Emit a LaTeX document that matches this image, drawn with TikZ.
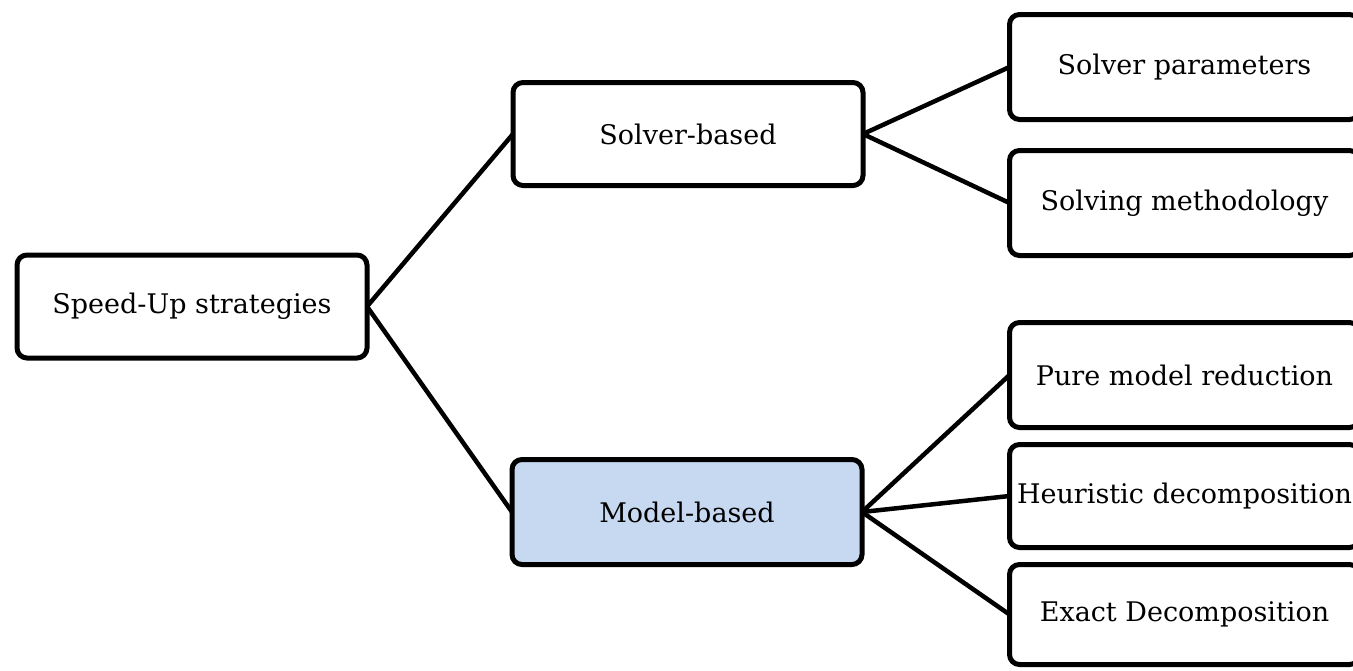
\documentclass[tikz,border=0pt]{standalone}
\usepackage{fontspec}
\setmainfont{DejaVu Serif}
\definecolor{boxblue}{HTML}{C6D9F1}
\begin{document}
\begin{tikzpicture}[x=1pt,y=-1pt,
  box/.style={draw=black, line width=5pt, rounded corners=10pt, fill=white,
    minimum width=350pt, minimum height=103pt, inner sep=0pt, outer sep=0pt,
    font=\fontsize{27}{31}\selectfont},
  link/.style={line width=4.5pt}]
\useasboundingbox (0,0) rectangle (1353,670);
\clip (0,0) rectangle (1353,670);
\node[box] (su) at (192,306.5) {Speed-Up strategies};
\node[box] (sb) at (688,134) {Solver-based};
\node[box, fill=boxblue, minimum height=105pt] (mb) at (687,512) {Model-based};
\node[box, minimum height=105pt] (sp) at (1184.5,67) {Solver parameters};
\node[box, minimum height=105pt] (sm) at (1184.5,203) {Solving methodology};
\node[box, minimum height=105pt] (pm) at (1184.5,375) {Pure model reduction};
\node[box] (hd) at (1184.5,496) {Heuristic decomposition};
\node[box, minimum height=100pt] (ed) at (1184.5,614.5) {Exact Decomposition};
\draw[link] (su.east) -- (sb.west);
\draw[link] (su.east) -- (mb.west);
\draw[link] (sb.east) -- (sp.west);
\draw[link] (sb.east) -- (sm.west);
\draw[link] (mb.east) -- (pm.west);
\draw[link] (mb.east) -- (hd.west);
\draw[link] (mb.east) -- (ed.west);
\end{tikzpicture}
\end{document}
